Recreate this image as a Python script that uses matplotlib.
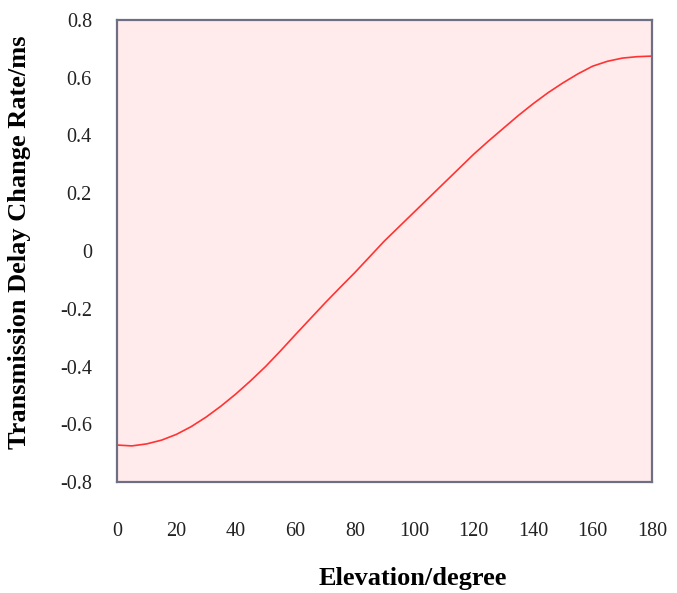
import matplotlib
matplotlib.use('Agg')
import matplotlib.pyplot as plt

# elevacion (grados) y tasa de cambio del retardo (ms)
elevacion = [0, 5, 10, 15, 20, 25, 30, 35, 40, 45, 50, 55, 60, 65, 70, 75, 80, 85, 90,
             95, 100, 105, 110, 115, 120, 125, 130, 135, 140, 145, 150, 155, 160, 165,
             170, 175, 180]
tasa = [-0.672, -0.675, -0.668, -0.655, -0.635, -0.608, -0.575, -0.537, -0.495, -0.449,
        -0.400, -0.346, -0.290, -0.235, -0.180, -0.127, -0.075, -0.020, 0.035,
        0.085, 0.135, 0.185, 0.235, 0.285, 0.335, 0.381, 0.425, 0.469, 0.510, 0.548,
        0.582, 0.613, 0.640, 0.657, 0.668, 0.673, 0.675]
xticks = [0, 20, 40, 60, 80, 100, 120, 140, 160, 180]
yticks = [-0.8, -0.6, -0.4, -0.2, 0, 0.2, 0.4, 0.6, 0.8]
ytick_labels = ['-0.8', '-0.6', '-0.4', '-0.2', '0', '0.2', '0.4', '0.6', '0.8']

plt.rcParams['font.family'] = ['Liberation Serif', 'DejaVu Serif']

W, H = 677, 593
fig = plt.figure(figsize=(W / 100, H / 100), dpi=100)
ax = fig.add_axes([117 / W, 1 - 482 / H, 535 / W, 462 / H])
ax.set_facecolor('#FFEBEB')
ax.plot(elevacion, tasa, color='#FF3333', linewidth=1.2)

ax.set_xlim(0, 180)
ax.set_ylim(-0.8, 0.8)
ax.set_xticks(xticks)
ax.set_yticks(yticks)
ax.set_yticklabels(ytick_labels)
ax.tick_params(length=0, labelsize=14.5, colors='#222222')
ax.tick_params(axis='x', pad=29)
ax.tick_params(axis='y', pad=18)

for s in ax.spines.values():
    s.set_color('#6E6E85')
    s.set_linewidth(1.6)

# titulos de los ejes (colocados a mano como en la figura original)
fig.text(20 / W, 1 - 242 / H, 'Transmission Delay Change Rate/ms', rotation=90,
         fontsize=19, fontweight='bold', ha='center', va='center')
fig.text(413 / W, 1 - 585 / H, 'Elevation/degree', fontsize=19, fontweight='bold',
         ha='center', va='baseline')

fig.savefig('out.png', dpi=100)
